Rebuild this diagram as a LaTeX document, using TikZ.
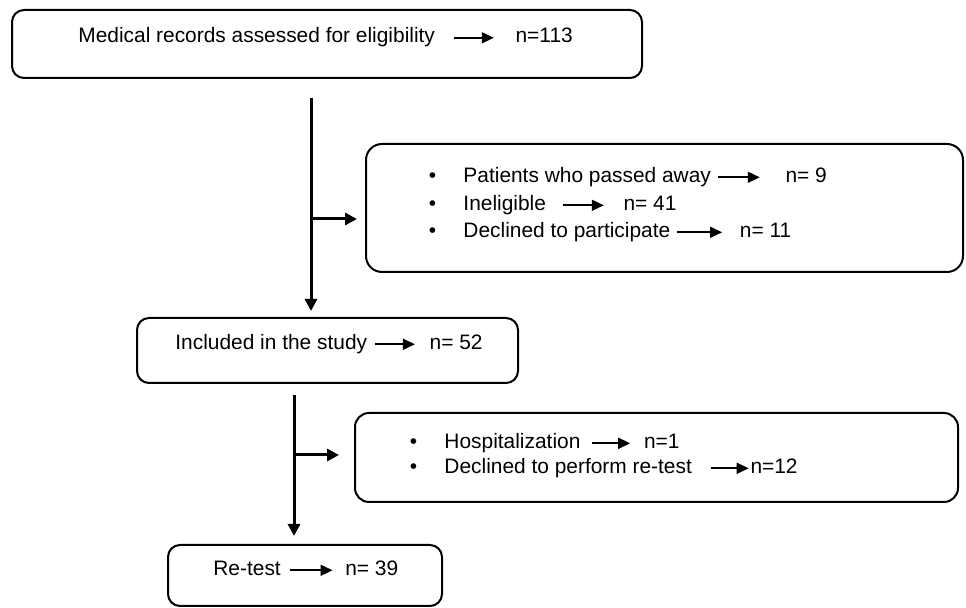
\documentclass[tikz,border=0pt]{standalone}
\usepackage{fontspec}
\setmainfont{Liberation Sans}
\usetikzlibrary{arrows.meta}
\tikzset{
  box/.style={draw,line width=1pt,rounded corners=6pt,inner sep=0pt},
  txt/.style={anchor=base west,inner sep=0pt},
  flow/.style={line width=1.5pt,-{Triangle[length=6pt,width=6pt]}}
}
\newcommand{\rarr}[1][20pt]{\tikz[baseline=-2.6pt]\draw[line width=0.8pt,-{Triangle[length=6pt,width=5.5pt]}] (0,0)--(#1,0);}
\newcommand{\itm}{\makebox[17.3pt][l]{\textbullet}}
\begin{document}
\begin{tikzpicture}[x=0.5pt,y=-0.5pt,font=\fontsize{10.45}{12.5}\selectfont,line join=round]
\useasboundingbox (0,0) rectangle (966,608);
\node[box,minimum width=315pt,minimum height=34pt] (top) at (327,44) {};
\node[box,rounded corners=8pt,minimum width=298.5pt,minimum height=64pt] (excl) at (664.5,208) {};
\node[box,minimum width=190.5pt,minimum height=32.5pt] (incl) at (327.5,350.5) {};
\node[box,rounded corners=7pt,minimum width=301.5pt,minimum height=44.5pt] (hosp) at (656.5,457.5) {};
\node[box,minimum width=137pt,minimum height=30.5pt] (retest) at (305,575.5) {};
\node[txt] (t0) at (78,43) {Medical records assessed for eligibility\hspace{9pt}\rarr\hspace{10.5pt}n=113};
\node[txt] (p1) at (428.5,182.5) {\itm Patients who passed away\hspace{3pt}\rarr[21pt]\hspace{12.5pt}n= 9};
\node[txt] (p2) at (428.5,210.5) {\itm Ineligible\hspace{8pt}\rarr[20.5pt]\hspace{9.5pt}n= 41};
\node[txt] (p3) at (428.5,237.5) {\itm Declined to participate\hspace{3pt}\rarr[22.5pt]\hspace{8.5pt}n= 11};
\node[txt] (t1) at (175,349.5) {Included in the study\hspace{3.5pt}\rarr\hspace{7pt}n= 52};
\node[txt] (h1) at (409.5,448.5) {\itm Hospitalization\hspace{5.5pt}\rarr[19pt]\hspace{6.5pt}n=1};
\node[txt] (h2) at (409.5,473.5) {\itm Declined to perform re-test\hspace{9pt}\rarr[19pt]\hspace{0.5pt}n=12};
\node[txt] (t2) at (213,575.5) {Re-test\hspace{4pt}\rarr[21.5pt]\hspace{6pt}n= 39};
\coordinate (a) at (311,98);
\coordinate (b) at (311,219);
\coordinate (c) at (294,395);
\coordinate (d) at (294,455);
\draw[flow,shorten >=3pt] (a) -- (incl.north -| a);
\draw[flow,shorten >=4pt] (b) -- (b -| excl.west);
\draw[flow,shorten >=4pt] (c) -- (retest.north -| c);
\draw[flow,shorten >=7.5pt] (d) -- (d -| hosp.west);
\end{tikzpicture}
\end{document}
